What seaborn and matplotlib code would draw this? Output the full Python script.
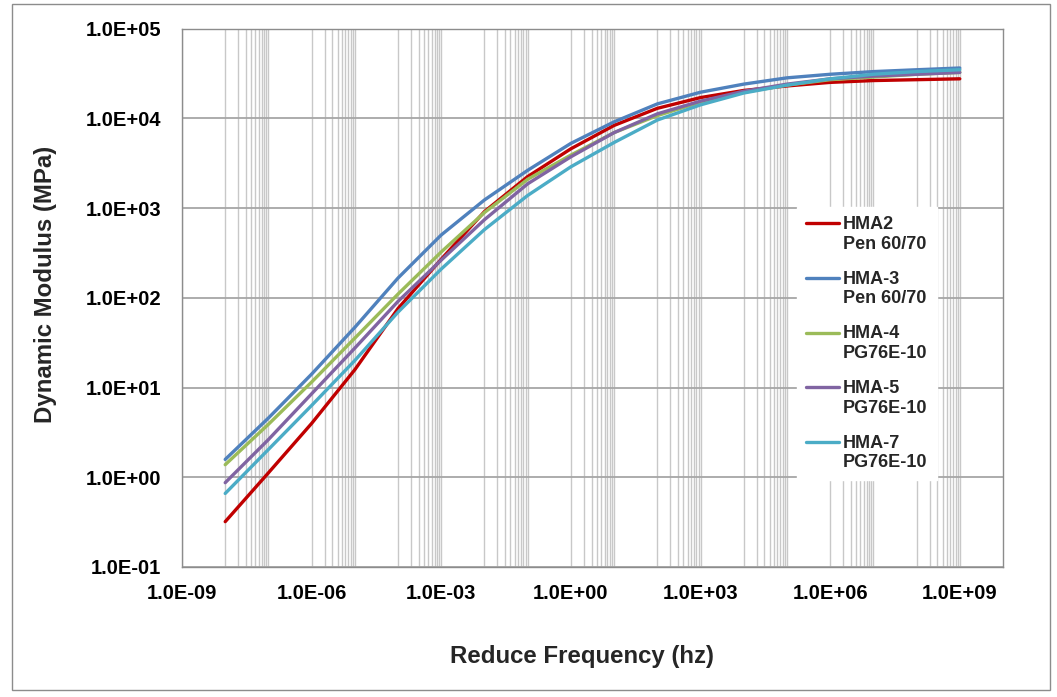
import matplotlib
matplotlib.use("Agg")
import numpy as np
import matplotlib.pyplot as plt
import matplotlib.patches as mpatches
from matplotlib.lines import Line2D
from matplotlib.legend_handler import HandlerLine2D
from matplotlib.ticker import FixedLocator, NullLocator, FuncFormatter, NullFormatter
import seaborn as sns
import pandas as pd

# ---- data ----
freq = [1e-8, 1e-7, 1e-6, 1e-5, 1e-4, 1e-3, 1e-2, 1e-1, 1e0,
        1e1, 1e2, 1e3, 1e4, 1e5, 1e6, 1e7, 1e8, 1e9]
hma2 = [0.32, 1.12, 3.98, 15.8, 75.9, 269, 912, 2240, 4570,
        8320, 12900, 17000, 20400, 22900, 25100, 26300, 26900, 27500]
hma3 = [1.58, 4.57, 14.1, 46.8, 166, 501, 1230, 2630, 5250,
        9120, 14450, 19500, 24000, 28200, 30900, 33100, 34700, 36300]
hma4 = [1.38, 3.89, 11.5, 35.5, 110, 324, 891, 2090, 3890,
        6920, 10700, 15100, 19500, 23400, 26900, 28800, 30900, 32400]
hma5 = [0.87, 2.63, 8.51, 27.5, 91.2, 263, 741, 1860, 3720,
        6920, 11200, 15500, 20000, 24000, 27500, 29500, 30900, 32400]
hma7 = [0.66, 2.04, 6.31, 20.0, 69.2, 209, 575, 1380, 2880,
        5370, 9550, 14100, 19100, 23400, 27500, 30900, 33100, 34700]

series_labels = ["HMA2\nPen 60/70", "HMA-3\nPen 60/70", "HMA-4\nPG76E-10",
                 "HMA-5\nPG76E-10", "HMA-7\nPG76E-10"]
series_values = [hma2, hma3, hma4, hma5, hma7]
colors = ["#C00000", "#4F81BD", "#9BBB59", "#8064A2", "#4BACC6"]

x_ticks = [1e-9, 1e-6, 1e-3, 1e0, 1e3, 1e6, 1e9]
y_ticks = [1e-1, 1e0, 1e1, 1e2, 1e3, 1e4, 1e5]

rows = []
for lab, vals in zip(series_labels, series_values):
    for f, v in zip(freq, vals):
        rows.append({"freq": f, "modulus": v, "series": lab})
df = pd.DataFrame(rows)


class TopLineHandler(HandlerLine2D):
    """Legend line aligned with the first line of a two-line label."""
    def create_artists(self, legend, orig_handle, xdescent, ydescent,
                       width, height, fontsize, trans):
        arts = super().create_artists(legend, orig_handle, xdescent, ydescent,
                                      width, height, fontsize, trans)
        for a in arts:
            if isinstance(a, Line2D):
                a.set_ydata(np.asarray(a.get_ydata(), dtype=float) + 0.62 * fontsize)
        return arts


# ---- style ----
sns.set_style("white")
plt.rcParams["font.family"] = ["Liberation Sans", "DejaVu Sans"]
plt.rcParams["font.weight"] = "bold"

fig = plt.figure(figsize=(10.57, 6.97), dpi=100)
W, H = 1057, 697
ax = fig.add_axes([182 / W, 1 - 567 / H, (1003 - 182) / W, (567 - 28.5) / H])

# outer chart border
fig.patches.append(mpatches.Rectangle((11.5 / W, 1 - 690 / H), (1050 - 11.5) / W, (690 - 4) / H,
                                      transform=fig.transFigure, fill=False,
                                      edgecolor="#8C8C8C", linewidth=1.0))

sns.lineplot(data=df, x="freq", y="modulus", hue="series", hue_order=series_labels,
             palette=colors, linewidth=2.4, estimator=None, sort=False, ax=ax,
             legend=True)

ax.set_xscale("log")
ax.set_yscale("log")
ax.set_xlim(1e-9, 1e10)
ax.set_ylim(1e-1, 1e5)

# gridlines (Excel-like)
minor_x = []
for e in range(-8, 9, 2):
    for k in range(1, 11):
        minor_x.append(k * 10.0 ** e)
ax.xaxis.set_major_locator(FixedLocator(x_ticks))
ax.xaxis.set_minor_locator(FixedLocator(minor_x))
ax.yaxis.set_major_locator(FixedLocator(y_ticks))
ax.yaxis.set_minor_locator(NullLocator())
fmt = FuncFormatter(lambda v, p: f"{v:.1E}")
ax.xaxis.set_major_formatter(fmt)
ax.yaxis.set_major_formatter(fmt)
ax.xaxis.set_minor_formatter(NullFormatter())
ax.yaxis.set_minor_formatter(NullFormatter())

ax.grid(which="major", axis="y", color="#A6A6A6", linewidth=1.3)
ax.grid(which="major", axis="x", color="#C8C8C8", linewidth=1.0)
ax.grid(which="minor", axis="x", color="#C8C8C8", linewidth=1.0)
ax.set_axisbelow(True)

for s in ax.spines.values():
    s.set_color("#8C8C8C")
    s.set_linewidth(1.0)

ax.tick_params(axis="both", which="major", direction="out", length=5, width=1,
               color="#8C8C8C", labelsize=14.5, labelcolor="black")
ax.tick_params(axis="x", which="major", pad=7)
ax.tick_params(axis="y", which="major", pad=10)
ax.tick_params(axis="x", which="minor", length=0)
for lbl in ax.get_xticklabels() + ax.get_yticklabels():
    lbl.set_fontweight("bold")

ax.set_xlabel("Reduce Frequency (hz)", fontsize=17.3, fontweight="bold")
ax.set_ylabel("Dynamic Modulus (MPa)", fontsize=17.3, fontweight="bold")
ax.xaxis.set_label_coords((581.5 - 182) / 821, (567 - 645) / 538.5)
ax.yaxis.set_label_coords((57 - 182) / 821, (567 - 284) / 538.5)

handles, labels = ax.get_legend_handles_labels()
leg = ax.legend(handles, labels, loc="upper left",
                bbox_to_anchor=(797 / W, 1 - 207 / H), bbox_transform=fig.transFigure,
                prop={"family": "Liberation Sans", "weight": "bold", "size": 13},
                frameon=True, facecolor="white", edgecolor="white", framealpha=1,
                fancybox=False, handlelength=1.8, handletextpad=0.25,
                labelspacing=1.0, borderpad=0.5, borderaxespad=0,
                handler_map={Line2D: TopLineHandler()})
for line in leg.get_lines():
    line.set_linewidth(2.4)

fig.savefig("out.png", dpi=100)
